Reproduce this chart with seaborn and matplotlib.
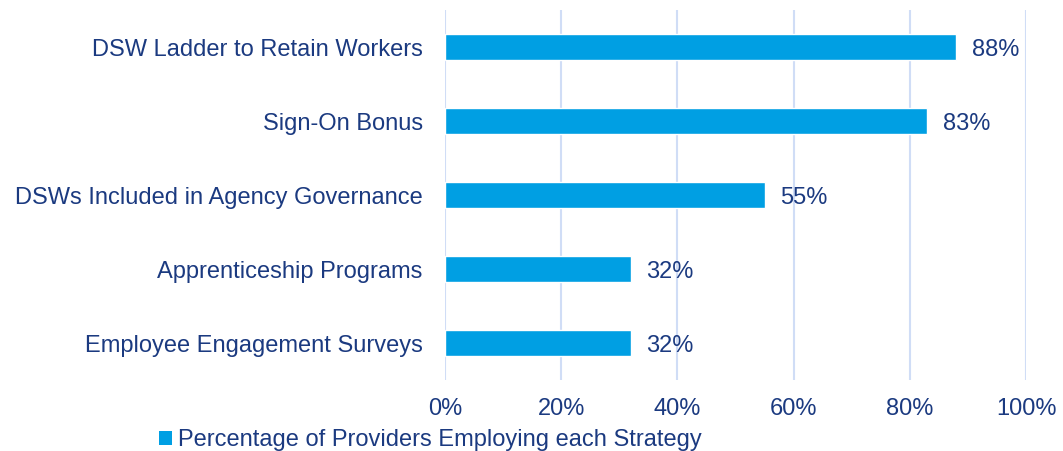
import seaborn as sns
import matplotlib.pyplot as plt
import pandas as pd
from matplotlib.patches import Patch
from matplotlib.ticker import PercentFormatter

strategies = [
    "DSW Ladder to Retain Workers",
    "Sign-On Bonus",
    "DSWs Included in Agency Governance",
    "Apprenticeship Programs",
    "Employee Engagement Surveys",
]
percent = [88, 83, 55, 32, 32]
series_name = "Percentage of Providers Employing each Strategy"

bar_color = "#009FE3"
text_color = "#1B3A80"
grid_color = "#D0DDF6"

df = pd.DataFrame({"strategy": strategies, "pct": percent})

sns.set_style("white")
plt.rcParams["font.family"] = ["Liberation Sans", "DejaVu Sans"]

fig = plt.figure(figsize=(10.63, 4.51), dpi=100)
ax = fig.add_axes([0.4186, 0.1574, 0.5466, 0.8204])

sns.barplot(data=df, x="pct", y="strategy", orient="h", color=bar_color,
            saturation=1, width=0.355, ax=ax)

for i, v in enumerate(percent):
    ax.annotate(f"{v}%", xy=(v, i), xytext=(11, -2), textcoords="offset points",
                va="center", ha="left", fontsize=17, color=text_color)

ax.set_xlim(0, 100)
ax.set_ylim(4.5, -0.5)
ax.xaxis.set_major_formatter(PercentFormatter(decimals=0))
ax.set_xticks(range(0, 101, 20))
ax.grid(axis="x", color=grid_color, linewidth=1.5)
ax.set_axisbelow(True)
for s in ax.spines.values():
    s.set_visible(False)
ax.tick_params(axis="both", length=0, labelsize=17, colors=text_color)
ax.tick_params(axis="y", pad=16)
ax.tick_params(axis="x", pad=13)
ax.set_xlabel("")
ax.set_ylabel("")

handles = [Patch(facecolor=bar_color, edgecolor="none", label=series_name)]
fig.legend(handles=handles, loc="center", bbox_to_anchor=(0.405, 0.024),
           frameon=False, fontsize=17, labelcolor=text_color,
           handlelength=0.55, handleheight=0.55, handletextpad=0.25)

fig.savefig("out.png", dpi=100)
